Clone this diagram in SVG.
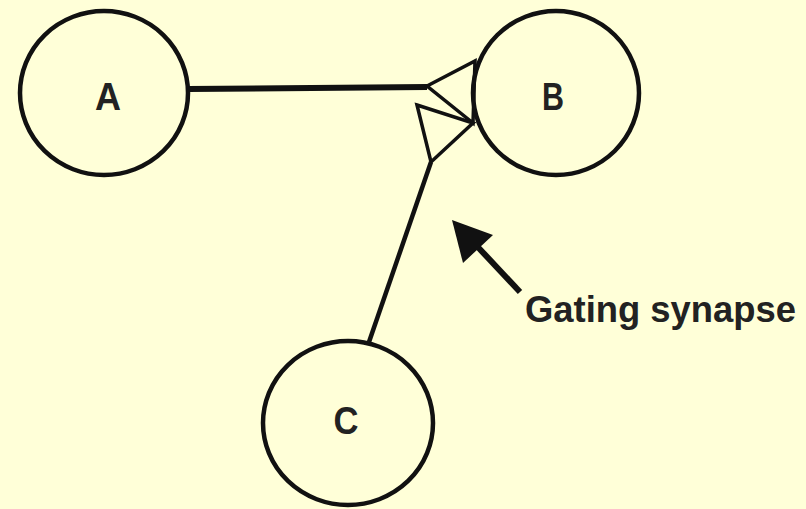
<svg xmlns="http://www.w3.org/2000/svg" width="806" height="509" viewBox="0 0 806 509">
  <style>
    .node { fill: none; stroke: #111; stroke-width: 4.5; }
    .lbl { font-family: "Liberation Sans", Arial, sans-serif; font-size: 38px; font-weight: bold; fill: #222; text-anchor: middle; }
    .edge { fill: none; stroke: #111; stroke-linejoin: miter; }
    .syn { fill: none; stroke: #111; stroke-width: 3.5; stroke-linejoin: miter; }
  </style>
  <rect x="0" y="0" width="806" height="509" fill="#FFFFD8"/>
  <g id="connectors">
    <line class="edge" x1="188" y1="89" x2="427" y2="87" stroke-width="6"/>
    <polygon class="syn" points="427,86 475,61 473,123"/>
    <line class="edge" x1="369" y1="342" x2="431" y2="162" stroke-width="4.5"/>
    <polygon class="syn" points="417,105 473,123 431,162"/>
  </g>
  <g id="node-A">
    <ellipse class="node" cx="104" cy="93" rx="84" ry="82"/>
    <text class="lbl" x="108" y="110" textLength="26" lengthAdjust="spacingAndGlyphs">A</text>
  </g>
  <g id="node-B">
    <ellipse class="node" cx="556" cy="93" rx="83" ry="82"/>
    <text class="lbl" x="553" y="110" textLength="22" lengthAdjust="spacingAndGlyphs">B</text>
  </g>
  <g id="node-C">
    <ellipse class="node" cx="348" cy="423" rx="85" ry="82"/>
    <text class="lbl" x="346" y="434" textLength="25" lengthAdjust="spacingAndGlyphs">C</text>
  </g>
  <g id="annotation">
    <line x1="520" y1="292" x2="475" y2="244" stroke="#111" stroke-width="6"/>
    <polygon points="452,220 493,235 463,263" fill="#111"/>
    <text x="525" y="322" font-family="'Liberation Sans', Arial, sans-serif" font-size="36" font-weight="bold" fill="#222" textLength="271" lengthAdjust="spacingAndGlyphs">Gating synapse</text>
  </g>
</svg>
